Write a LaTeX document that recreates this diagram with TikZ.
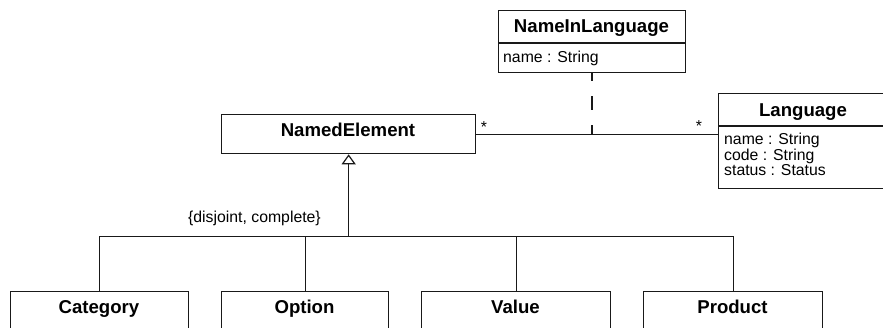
\documentclass[tikz,border=0pt]{standalone}
\usepackage{fontspec}
\setmainfont{Liberation Sans}
\usetikzlibrary{arrows.meta,calc}
\begin{document}
\begin{tikzpicture}[x=1pt,y=-1pt,
  umlbox/.style={draw=black!90,line width=1.3pt,fill=white,inner sep=0pt,anchor=north west},
  title/.style={font=\fontsize{18.6}{22}\selectfont\bfseries,anchor=base,inner sep=0pt},
  attr/.style={font=\fontsize{15.8}{19}\selectfont,anchor=base west,inner sep=0pt},
  mult/.style={font=\fontsize{15.8}{19}\selectfont,anchor=base,inner sep=0pt},
  conn/.style={draw=black!90,line width=1.3pt},
  gen/.style={conn,-{Triangle[open,width=14pt,length=10pt,line width=1.2pt]}},
  dep/.style={conn,line width=1.6pt,dash pattern=on 14pt off 15pt,dash phase=6pt}]

\useasboundingbox (0,0) rectangle (883,327);
\clip (0,0) rectangle (883,327);

% classes
\node[umlbox,minimum width=254pt,minimum height=39pt] (ne) at (221,114) {};
\node[title] (neT) at (348,136) {NamedElement};

\node[umlbox,minimum width=187pt,minimum height=62pt] (nil) at (498,10) {};
\draw[conn] (nil.west |- 0,43) -- (nil.east |- 0,43);
\node[title] (nilT) at (591.5,32) {NameInLanguage};
\node[attr] (nilA) at (503,62) {name : String};

\node[umlbox,minimum width=170pt,minimum height=95pt] (lang) at (718,93) {};
\draw[conn] (lang.west |- 0,126) -- (lang.east |- 0,126);
\node[title] (langT) at (803,116) {Language};
\node[attr] (langA1) at (724,144.3) {name : String};
\node[attr] (langA2) at (724,160) {code : String};
\node[attr] (langA3) at (724,175.5) {status : Status};

\node[umlbox,minimum width=178pt,minimum height=60pt] (cat) at (10,291) {};
\node[title] (catT) at (99,313) {Category};
\node[umlbox,minimum width=167pt,minimum height=60pt] (opt) at (221,291) {};
\node[title] (optT) at (304.5,313) {Option};
\node[umlbox,minimum width=189pt,minimum height=60pt] (val) at (421,291) {};
\node[title] (valT) at (515.5,313) {Value};
\node[umlbox,minimum width=179pt,minimum height=60pt] (prod) at (643,291) {};
\node[title] (prodT) at (732.5,313) {Product};

% generalization set
\coordinate (fork) at ($(ne.south)+(0,82)$);
\draw[conn] (cat.north) -- (cat.north |- fork) -- (prod.north |- fork) -- (prod.north);
\draw[conn] (opt.north) -- (opt.north |- fork);
\draw[conn] (val.north) -- (val.north |- fork);
\draw[gen] (fork) -- (ne.south);
\node[attr,anchor=base east] (gs) at (321,222) {\{disjoint, complete\}};

% association with association class
\draw[conn] (ne.east) -- (ne.east -| lang.west);
\coordinate (assocMid) at (nil.south |- ne.east);
\draw[dep] (nil.south) -- (assocMid);
\node[mult] (m1) at (484,132) {*};
\node[mult] (m2) at (699,131) {*};
\end{tikzpicture}
\end{document}
